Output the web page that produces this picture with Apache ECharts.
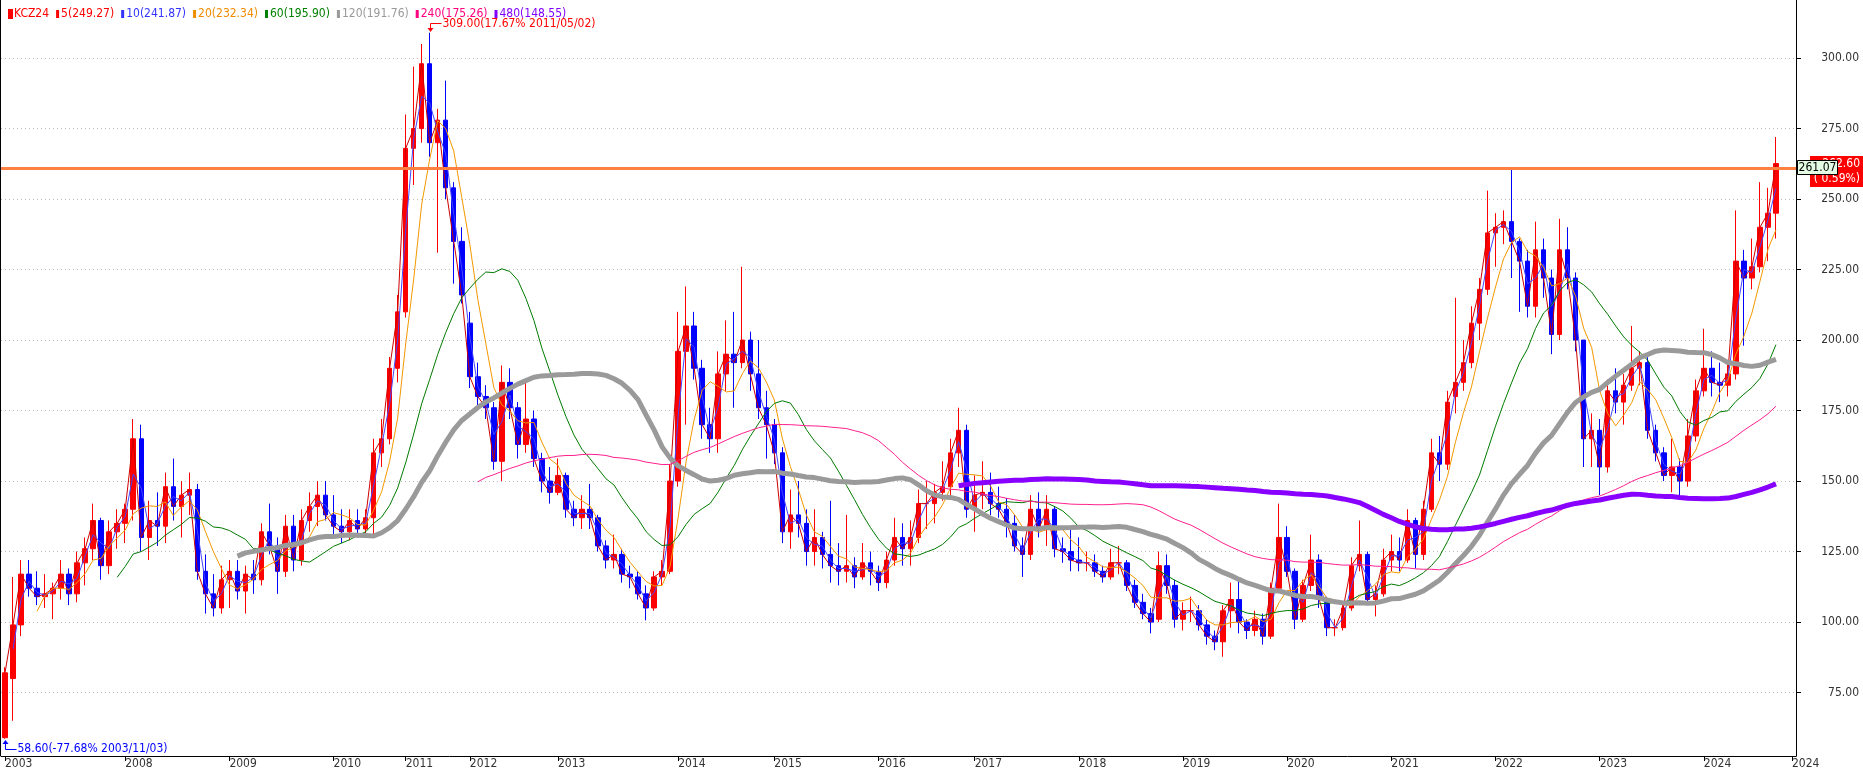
<!DOCTYPE html>
<html><head><meta charset="utf-8">
<script src="https://cdn.jsdelivr.net/npm/echarts@6/dist/echarts.min.js"></script>
<style>html,body{margin:0;padding:0;background:#fff}#c{width:1863px;height:774px}</style>
</head><body><div id="c"></div>
<script>
// ---- data (one slot ≈ 4 weekly bars) ----
const yearLabels = ['2003','2008','2009','2010','2011','2012','2013','2014','2015','2016','2017','2018','2019','2020','2021','2022','2023','2024','2024'];
const yearStartSlots = [0,15,28,41,50,58,69,84,96,109,121,134,147,160,173,186,199,212,223];
const slotCount = 224;

const opens = [59,80,99,117,112,109,110,112,117,110,121,126,136,120,132,135,140,165,130,136,134,148,141,145,147,118,110,105,115,118,111,117,115,132,127,118,134,122,136,141,145,138,134,132,136,133,137,160,165,190,
210,268,275,298,270,278,254,235,206,187,180,176,157,185,176,163,172,158,150,146,152,140,137,140,137,127,122,124,117,116,110,105,116,118,150,196,205,190,170,165,188,195,192,200,188,176,170,160,132,138,
135,125,130,124,120,118,120,116,121,118,114,122,130,126,130,142,142,146,148,160,168,140,145,146,142,140,135,127,124,140,133,140,126,125,122,121,121,118,116,121,121,113,107,103,101,120,113,101,104,104,
99,95,93,104,108,100,97,101,95,112,130,118,101,113,122,108,98,98,105,120,124,108,110,122,125,122,136,124,140,160,156,180,185,192,206,218,238,240,242,235,228,212,232,222,202,232,222,200,165,168,
155,182,178,184,190,192,168,160,152,155,150,166,182,190,185,184,188,228,222,226,240,245];
const highs = [84,116,122,122,118,117,114,122,119,125,130,142,137,136,140,142,172,170,143,146,153,158,150,153,149,124,117,120,122,122,120,122,135,142,130,138,138,140,146,150,150,145,140,140,140,140,165,172,194,216,
280,297,305,309,282,292,256,240,210,192,184,178,191,190,178,186,175,160,155,158,153,143,145,149,138,129,131,126,120,118,113,118,122,156,210,219,210,193,176,196,207,210,226,203,200,182,172,162,147,150,
140,140,132,143,128,138,123,128,125,120,125,137,135,136,147,150,149,157,165,176,170,152,157,153,148,144,138,130,145,146,145,141,130,133,130,125,124,120,126,127,122,115,110,105,125,124,115,107,109,106,
101,97,106,114,115,101,104,103,114,142,134,119,115,131,124,109,101,107,123,136,125,113,126,131,130,140,137,143,165,166,182,215,200,212,222,253,245,246,261,236,232,242,236,225,243,240,224,200,174,172,
186,190,188,205,196,194,170,162,165,158,172,186,204,196,192,192,246,232,236,256,254,272];
const lows = [58.6,65,95,109,106,105,101,108,106,107,113,122,115,117,126,128,136,125,122,127,128,136,130,138,115,103,102,103,105,108,103,110,113,124,110,116,118,120,132,134,136,130,128,129,130,130,131,155,163,185,
208,255,270,265,231,250,220,213,183,175,172,154,150,172,158,160,155,146,142,145,137,134,133,133,125,119,119,114,112,108,100.6,104,113,117,148,170,186,165,160,160,182,176,190,182,172,158,156,128,126,130,
120,120,119,114,113,114,112,115,113,111,112,120,120,120,128,133,135,143,145,155,137,132,140,138,137,130,125,116,122,130,127,123,121,118,118,118,116,114,115,117,111,105,101,96,100,110,98,97,100,97,
92,90,87.7,98,96,94,95,92,94,111,116,97.5,100,111,105,95,95,97,104,118,106,102,109,118,118,121,119,122,139,150,154,174,182,190,200,216,226,234,222,210,208,208,215,195,200,218,196,155,155,145,
153,174,170,182,184,165,157,150,146,144,148,164,180,180,178,180,186,198,218,224,228,236];
const closes = [82,99,117,112,109,110,112,117,110,121,126,136,120,132,135,140,165,130,136,134,148,141,145,147,118,110,105,115,118,111,117,115,132,127,118,134,122,136,141,145,138,134,132,136,133,137,160,165,190,210,
268,275,298,270,278,254,235,216,187,180,176,157,185,176,163,172,158,150,146,152,140,137,140,137,127,122,124,117,116,110,105,116,118,150,196,205,190,170,165,188,195,192,200,188,176,170,160,132,138,135,
125,130,124,120,118,120,116,121,118,114,122,130,126,130,142,142,146,148,160,168,140,145,146,142,140,135,127,124,140,133,140,126,125,122,121,121,118,116,121,121,113,107,103,100,120,113,101,104,104,99,
95,93,104,108,100,97,101,95,112,130,118,101,113,122,108,98,98,105,120,124,108,110,122,125,122,136,124,140,160,156,178,185,192,206,218,238,240,242,235,228,212,232,222,202,232,222,200,165,168,155,
182,178,184,190,192,168,160,152,155,150,166,182,190,185,184,188,228,222,226,240,245,262.6];

const maNames = ['5','10','20','60','120','240','480'];
const maSlotPeriods = [1,2,5,15,30,60,120];   // weekly periods expressed in 4-week slots
const maLegendValues = ['249.27','241.87','232.34','195.90','191.76','175.26','148.55'];
const maLineColors = ['#cc0000','#4444ff','#f39800','#007a00','#9a9a9a','#ff1f8f','#8800ff'];
const maTextColors = ['#ff0000','#3333ff','#f08c00','#008000','#999999','#ff0080','#8000ff'];
const maWidths = [1,1,1,1,5,1,5];
const yTicks = [75,100,125,150,175,200,225,250,275,300];
const currentLine = 261.07;
const lastPrice = 262.60;
const lastChangeText = '( 0.59%)';
const highNote = {slot:53, value:309.00, text:'309.00(17.67% 2011/05/02)'};
const lowNote = {slot:0, value:58.60, text:'58.60(-77.68% 2003/11/03)'};

// ---- build ----
const FONT = "'DejaVu Sans Condensed','Liberation Sans Narrow','DejaVu Sans',sans-serif";
const categories = [];
for (let i = 0; i < slotCount; i++) {
  let k = 0;
  for (let j = 0; j < yearStartSlots.length; j++) if (yearStartSlots[j] <= i) k = j;
  categories.push(yearLabels[k] + '-' + (i - yearStartSlots[k] + 1));
}
const yearSet = new Set(yearStartSlots);
const candle = opens.map((o, i) => [o, closes[i], lows[i], highs[i]]);
function sma(arr, n) {
  return arr.map((_, i) => {
    if (i < n - 1) return null;
    let s = 0; for (let j = i - n + 1; j <= i; j++) s += arr[j];
    return +(s / n).toFixed(2);
  });
}
const series = [{
  name: 'KCZ24', type: 'candlestick', data: candle, barWidth: '62%',
  itemStyle: {color: '#ff0000', color0: '#0000ff', borderColor: '#ff0000', borderColor0: '#0000ff', borderWidth: 1},
  z: 2,
  markLine: {silent: true, symbol: ['none','none'], label: {show: false}, z: 10,
    lineStyle: {color: '#ff8040', width: 3, type: 'solid'}, data: [{yAxis: currentLine}]}
}];
maNames.forEach((n, k) => series.push({
  name: n, type: 'line', data: sma(closes, maSlotPeriods[k]), symbol: 'none', showSymbol: false,
  lineStyle: {color: maLineColors[k], width: maWidths[k]}, itemStyle: {color: maTextColors[k]},
  z: 3, silent: true
}));

const option = {
  animation: false,
  backgroundColor: '#ffffff',
  grid: {left: 1, right: 67, top: 0, bottom: 18, containLabel: false},
  legend: {
    left: 3, top: 3, itemWidth: 3, itemHeight: 8, itemGap: 7, icon: 'rect',
    textStyle: {fontFamily: FONT, fontSize: 12, padding: [0, 0, 0, -3]},
    formatter: name => { const i = maNames.indexOf(name); return i < 0 ? name : name + '(' + maLegendValues[i] + ')'; },
    data: [{name: 'KCZ24', textStyle: {color: '#ff0000'}}].concat(maNames.map((n, k) => ({name: n, textStyle: {color: maTextColors[k]}})))
  },
  xAxis: {
    type: 'category', data: categories, boundaryGap: true,
    axisLine: {show: true, lineStyle: {color: '#000', width: 1}},
    axisTick: {show: true, alignWithLabel: true, length: 5, interval: (i) => yearSet.has(i), lineStyle: {color: '#000'}},
    axisLabel: {interval: (i) => yearSet.has(i), align: 'left', margin: 2, color: '#333', fontFamily: FONT, fontSize: 12,
      formatter: v => v.split('-')[0]},
    splitLine: {show: false}
  },
  yAxis: {
    type: 'value', position: 'right', min: 52.5, max: 320.6, scale: true,
    axisLine: {show: true, lineStyle: {color: '#000', width: 1}},
    axisTick: {show: true, length: 5, customValues: yTicks, lineStyle: {color: '#000'}},
    axisLabel: {customValues: yTicks, align: 'right', margin: 63, color: '#333', fontFamily: FONT, fontSize: 12,
      formatter: v => v.toFixed(2)},
    splitLine: {show: true, lineStyle: {color: '#bdbdbd', width: 1, type: [1, 3]}}
  },
  series: series
};

const chart = echarts.init(document.getElementById('c'));
chart.setOption(option);

const P = (i, v) => chart.convertToPixel({xAxisIndex: 0, yAxisIndex: 0}, [i, v]);
const hp = P(highNote.slot, highNote.value);
const lp = P(lowNote.slot, lowNote.value);
const cy = P(0, currentLine)[1];
const ly = P(0, lastPrice)[1];
const hx = Math.round(hp[0]) + 0.5, hy = Math.round(hp[1]);
const lx = Math.round(lp[0]) + 0.5, lyy = Math.round(lp[1]);

chart.setOption({graphic: [
  {type: 'line', silent: true, shape: {x1: 0.5, y1: 0, x2: 0.5, y2: 756}, style: {stroke: '#000', lineWidth: 1}},
  // high note
  {type: 'polyline', silent: true, shape: {points: [[hx + 11, hy - 9.5], [hx, hy - 9.5], [hx, hy - 4]]}, style: {stroke: '#ff0000', lineWidth: 1, fill: null}, z: 20},
  {type: 'polygon', silent: true, shape: {points: [[hx - 3, hy - 5], [hx + 3, hy - 5], [hx, hy - 1]]}, style: {fill: '#ff0000'}, z: 20},
  {type: 'text', silent: true, x: hx + 12, y: hy - 9, style: {text: highNote.text, fill: '#ff0000', font: '12px ' + FONT, verticalAlign: 'middle'}, z: 20},
  // low note
  {type: 'polyline', silent: true, shape: {points: [[lx, lyy + 4], [lx, lyy + 10.5], [lx + 11, lyy + 10.5]]}, style: {stroke: '#0000ff', lineWidth: 1, fill: null}, z: 20},
  {type: 'polygon', silent: true, shape: {points: [[lx - 3, lyy + 5], [lx + 3, lyy + 5], [lx, lyy + 1]]}, style: {fill: '#0000ff'}, z: 20},
  {type: 'text', silent: true, x: lx + 12, y: lyy + 10, style: {text: lowNote.text, fill: '#0000ff', font: '12px ' + FONT, verticalAlign: 'middle'}, z: 20},
  // last price box
  {type: 'rect', silent: true, shape: {x: 1810, y: Math.round(ly) - 8, width: 53, height: 31}, style: {fill: '#ff0000'}, z: 20},
  {type: 'text', silent: true, x: 1860, y: ly, style: {text: lastPrice.toFixed(2), fill: '#fff', font: '12px ' + FONT, align: 'right', verticalAlign: 'middle'}, z: 21},
  {type: 'text', silent: true, x: 1860, y: ly + 15, style: {text: lastChangeText, fill: '#fff', font: '12px ' + FONT, align: 'right', verticalAlign: 'middle'}, z: 21},
  // current line box
  {type: 'rect', silent: true, shape: {x: 1797.5, y: Math.round(cy) - 7.5, width: 40, height: 14}, style: {fill: '#e4fbe4', stroke: '#000', lineWidth: 1}, z: 22},
  {type: 'text', silent: true, x: 1817.5, y: cy, style: {text: currentLine.toFixed(2), fill: '#000', font: '12px ' + FONT, align: 'center', verticalAlign: 'middle'}, z: 23}
]});
</script>
</body></html>
